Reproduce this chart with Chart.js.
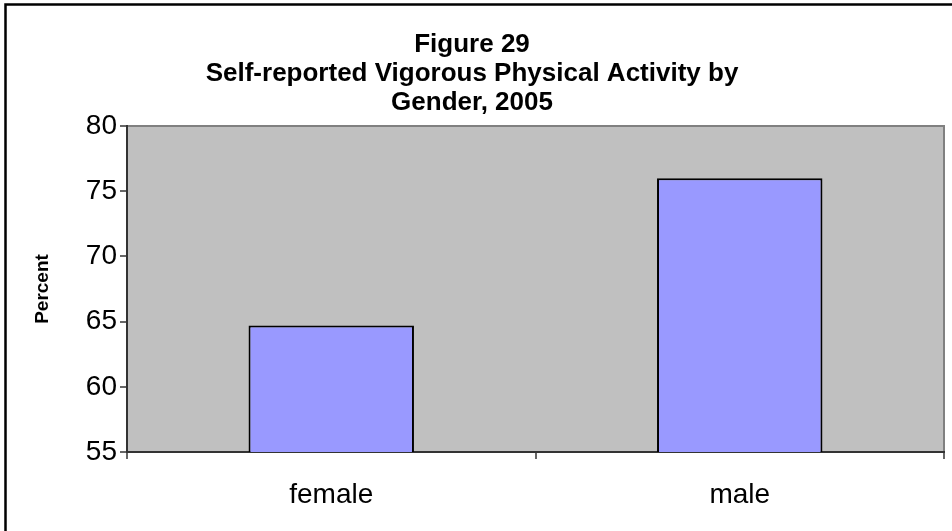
<!DOCTYPE html>
<html>
<head>
<meta charset="utf-8">
<script src="https://cdn.jsdelivr.net/npm/chart.js@4/dist/chart.umd.min.js"></script>
<style>
  html, body { margin: 0; padding: 0; background: #ffffff; }
  #wrap { width: 952px; height: 531px; position: relative; }
</style>
</head>
<body>
<div id="wrap"><canvas id="c" width="952" height="531"></canvas></div>
<script>
const titleLines = ['Figure 29', 'Self-reported Vigorous Physical Activity by', 'Gender, 2005'];
const categories = ['female', 'male'];
const percentValues = [64.7, 76.0];
const yAxisTitle = 'Percent';
const yMin = 55;
const yMax = 80;
const yStep = 5;

const FONT = "'Liberation Sans', Arial, Helvetica, sans-serif";

const framePlugin = {
  id: 'frame',
  beforeDraw(chart) {
    const ctx = chart.ctx;
    const a = chart.chartArea;
    ctx.save();
    ctx.fillStyle = '#ffffff';
    ctx.fillRect(0, 0, chart.width, chart.height);
    ctx.strokeStyle = '#000000';
    ctx.lineWidth = 2.5;
    ctx.strokeRect(5.5, 4.5, 1000, 1000);
    ctx.fillStyle = '#C0C0C0';
    ctx.fillRect(a.left, a.top, a.right - a.left, a.bottom - a.top);
    ctx.strokeStyle = '#808080';
    ctx.lineWidth = 2;
    ctx.beginPath();
    ctx.moveTo(a.left, a.top);
    ctx.lineTo(a.right, a.top);
    ctx.lineTo(a.right, a.bottom);
    ctx.stroke();
    ctx.restore();
  }
};

new Chart(document.getElementById('c'), {
  type: 'bar',
  data: {
    labels: categories,
    datasets: [{
      label: yAxisTitle,
      data: percentValues,
      backgroundColor: '#9999FF',
      borderColor: '#000000',
      borderWidth: 2,
      borderSkipped: false,
      categoryPercentage: 1.0,
      barPercentage: 0.405
    }]
  },
  options: {
    responsive: false,
    animation: false,
    devicePixelRatio: 1,
    layout: { padding: { top: 0, left: 0, right: 8, bottom: 0 } },
    plugins: {
      legend: { display: false },
      tooltip: { enabled: false },
      title: {
        display: true,
        text: titleLines,
        color: '#000000',
        font: { family: FONT, size: 26, weight: 'bold', lineHeight: 29 / 26 },
        padding: { top: 30.5, bottom: 8.5 }
      }
    },
    scales: {
      x: {
        afterFit(scale) { scale.height = 79; },
        grid: { offset: true, drawOnChartArea: false, drawTicks: true, tickLength: 7, color: '#666666', lineWidth: 2 },
        border: { display: true, color: '#333333', width: 2 },
        ticks: { color: '#000000', font: { family: FONT, size: 28 }, padding: 19, maxRotation: 0 }
      },
      y: {
        min: yMin,
        max: yMax,
        afterFit(scale) { scale.width = 127; },
        grid: { drawOnChartArea: false, drawTicks: true, tickLength: 7, color: '#666666', lineWidth: 2 },
        border: { display: true, color: '#333333', width: 2 },
        ticks: { stepSize: yStep, color: '#000000', font: { family: FONT, size: 28 }, padding: 3 },
        title: {
          display: true,
          text: yAxisTitle,
          color: '#000000',
          font: { family: FONT, size: 19, weight: 'bold' },
          padding: { top: 31.5, bottom: 0 }
        }
      }
    }
  },
  plugins: [framePlugin]
});
</script>
</body>
</html>
